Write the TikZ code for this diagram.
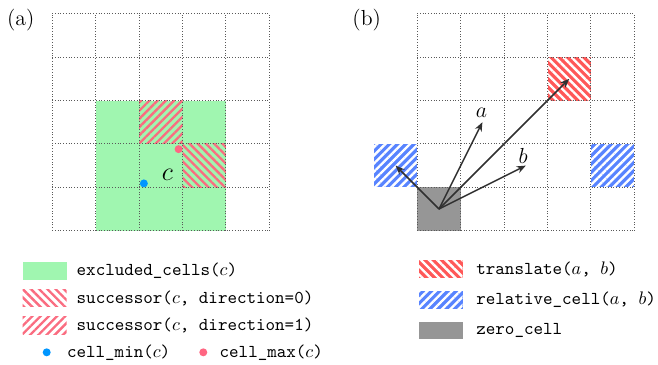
\documentclass[tikz,border=0pt]{standalone}
\usepackage{tikz}
\usetikzlibrary{arrows.meta, calc, patterns.meta}
\usetikzlibrary{positioning}

\definecolor{greenfill}{RGB}{160,246,176}
\definecolor{pinkline}{RGB}{250,108,128}
\definecolor{redcell}{RGB}{255,88,88}
\definecolor{bluecell}{RGB}{88,132,255}
\definecolor{graycell}{RGB}{150,150,150}
\definecolor{mindot}{RGB}{0,150,255}
\definecolor{maxdot}{RGB}{255,102,130}
\definecolor{vecgray}{RGB}{48,48,48}

\tikzset{
    gridline/.style={densely dotted, line width=0.5pt, black!65, step=0.84cm},
    hatchup/.style={pattern={Lines[angle=45, distance=3.2pt, line width=1.3pt]}},
    hatchdown/.style={pattern={Lines[angle=-45, distance=3.2pt, line width=1.3pt]}},
    swatch/.style={minimum width=0.85cm, minimum height=0.34cm, inner sep=0pt},
    dot/.style={circle, inner sep=0pt, minimum size=4.4pt},
    vec/.style={-{Stealth[length=5pt, width=4pt]}, line width=0.8pt, vecgray},
    legtext/.style={anchor=west, inner sep=0pt}
}

\begin{document}
\begin{tikzpicture}[x=0.84cm, y=0.84cm]
    \useasboundingbox (-1.205,-3.094) rectangle (13.956,5.316);
    \node[font=\large] (pa) at (-0.726,4.855) {(a)};
    \node[font=\large] (pb) at (7.244,4.855) {(b)};

    \fill[greenfill] (1,0) rectangle (4,3);
    \fill[hatchup, pattern color=pinkline] (2,2) rectangle (3,3);
    \fill[hatchdown, pattern color=pinkline] (3,1) rectangle (4,2);
	\draw[gridline] (0,0) grid (5,5);
	\node[dot, fill=mindot] (cmin) at (2.11,1.09) {};
	\node[dot, fill=maxdot] (cmax) at (2.91,1.88) {};
	\node[font=\Large] (c) at (2.65,1.29) {$c$};

    \begin{scope}[shift={(8.41,0)}]
	\fill[graycell] (0,0) rectangle (1,1);
	\fill[redcell, postaction={hatchdown, pattern color=white}] (3,3) rectangle (4,4);
	\fill[bluecell, postaction={hatchup, pattern color=white}] (-1,1) rectangle (0,2);
	\fill[bluecell, postaction={hatchup, pattern color=white}] (4,1) rectangle (5,2);
	\draw[gridline] (0,0) grid (5,5);
	\coordinate (o) at (0.5,0.5);
	\coordinate (va) at (1.5,2.5);
	\coordinate (vb) at (2.5,1.5);
	\coordinate (vab) at (3.5,3.5);
	\coordinate (vrel) at (-0.5,1.5);
	\draw[vec] (o) -- (va);
	\draw[vec] (o) -- (vb);
	\draw[vec] (o) -- (vab);
	\draw[vec] (o) -- (vrel);
	\node[font=\large] (la) at (1.48,2.72) {$a$};
	\node[font=\large] (lb) at (2.44,1.72) {$b$};
    \end{scope}

    \node[swatch, fill=greenfill] (sexc) at (-0.175,-0.929) {};
    \node[swatch, hatchdown, pattern color=pinkline] (ssx) at (-0.175,-1.551) {};
    \node[swatch, hatchup, pattern color=pinkline] (ssy) at (-0.175,-2.184) {};
    \node[legtext] (texc) at ([xshift=0.18cm]sexc.east) {\texttt{excluded\_cells(}$c$\texttt{)}};
    \node[legtext] (tsx) at ([xshift=0.18cm]ssx.east) {\texttt{successor(}$c$\texttt{, direction=0)}};
    \node[legtext] (tsy) at ([xshift=0.18cm]ssy.east) {\texttt{successor(}$c$\texttt{, direction=1)}};
    \node[dot, fill=mindot] (dmin) at (-0.129,-2.802) {};
    \node[legtext] (tmin) at (0.332,-2.802) {\texttt{cell\_min(}$c$\texttt{)}};
    \node[dot, fill=maxdot] (dmax) at (3.479,-2.802) {};
    \node[legtext] (tmax) at (3.848,-2.802) {\texttt{cell\_max(}$c$\texttt{)}};

    \node[swatch, fill=redcell, postaction={hatchdown, pattern color=white}] (str) at (8.951,-0.882) {};
    \node[swatch, fill=bluecell, postaction={hatchup, pattern color=white}] (srel) at (8.951,-1.597) {};
    \node[swatch, fill=graycell] (szero) at (8.951,-2.300) {};
    \node[legtext] (ttr) at ([xshift=0.25cm]str.east) {\texttt{translate(}$a$\texttt{, }$b$\texttt{)}};
    \node[legtext] (trel) at ([xshift=0.25cm]srel.east) {\texttt{relative\_cell(}$a$\texttt{, }$b$\texttt{)}};
    \node[legtext] (tzero) at ([xshift=0.25cm]szero.east) {\texttt{zero\_cell}};
\end{tikzpicture}
\end{document}
